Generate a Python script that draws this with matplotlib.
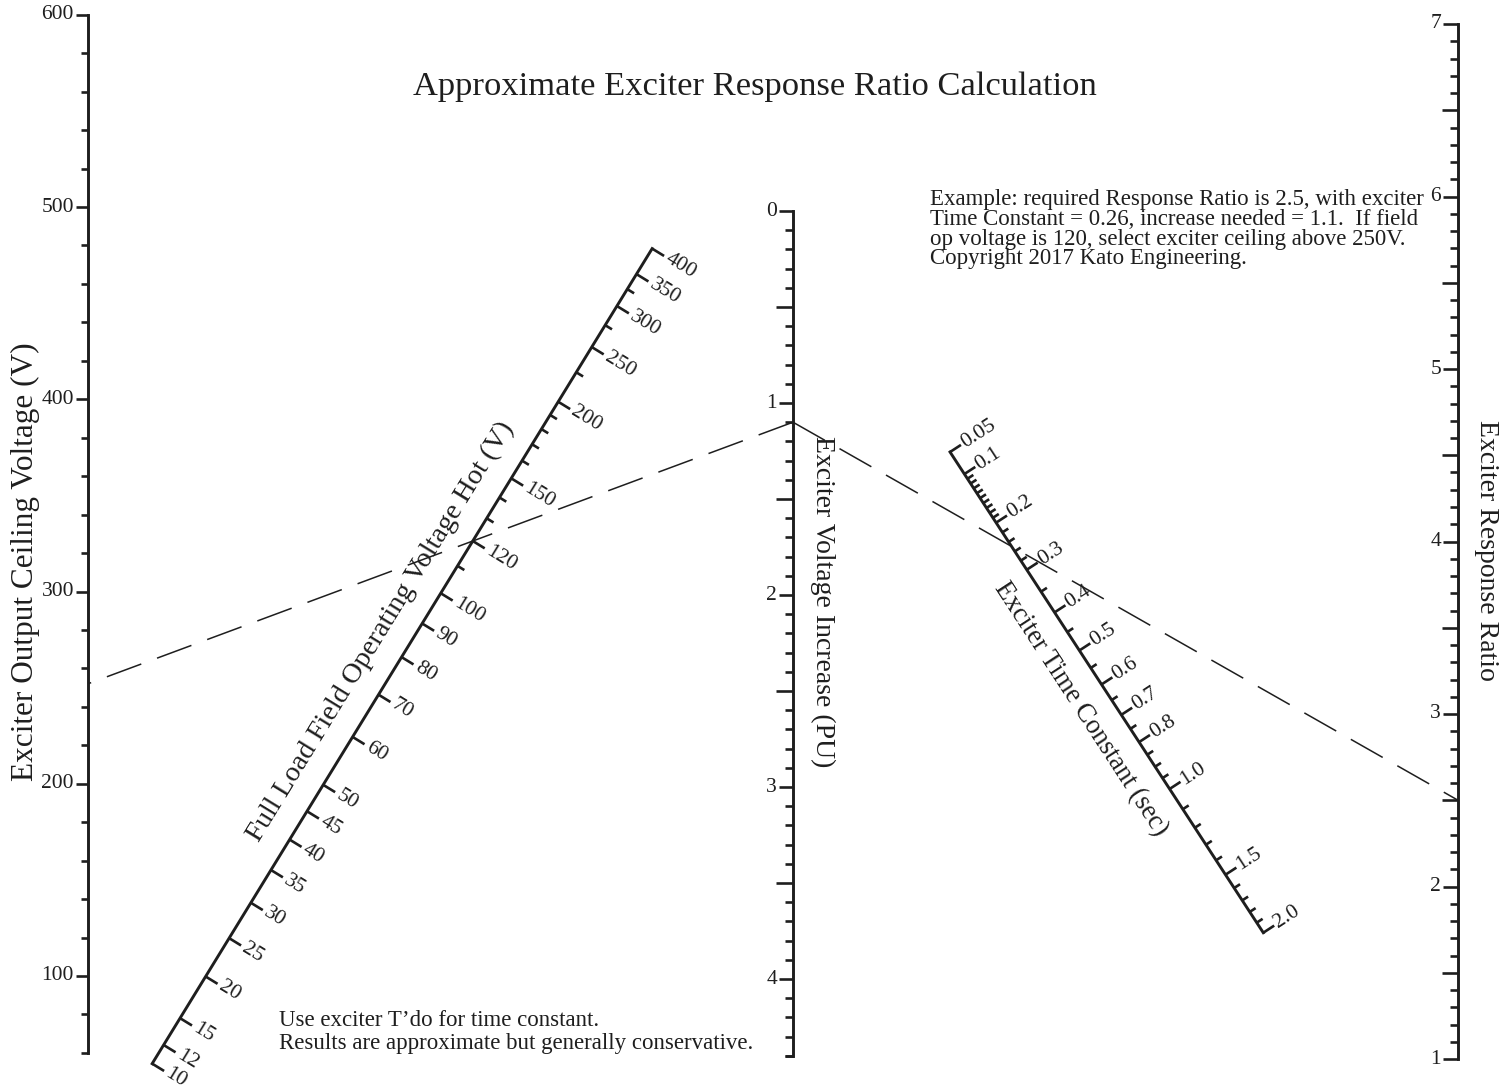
import numpy as np
import matplotlib
matplotlib.use("Agg")
import matplotlib.pyplot as plt
from matplotlib.collections import LineCollection

# ---------------- data ----------------
ceiling_labels = [100, 200, 300, 400, 500, 600]
ceiling_minor = [60, 80, 120, 140, 160, 180, 220, 240, 260, 280, 320, 340, 360, 380,
                 420, 440, 460, 480, 520, 540, 560, 580]
ceiling_range = (60, 600)

increase_labels = [0, 1, 2, 3, 4]
increase_range = (0.0, 4.4)

ratio_labels = [1, 2, 3, 4, 5, 6, 7]
ratio_range = (1.0, 7.0)

field_labels = [10, 12, 15, 20, 25, 30, 35, 40, 45, 50, 60, 70, 80, 90, 100,
                120, 150, 200, 250, 300, 350, 400]
field_minor = [110, 130, 140, 160, 170, 180, 190, 225, 275, 325]

tc_labels = [0.05, 0.1, 0.2, 0.3, 0.4, 0.5, 0.6, 0.7, 0.8, 1.0, 1.5, 2.0]
tc_label_text = ["0.05", "0.1", "0.2", "0.3", "0.4", "0.5", "0.6", "0.7", "0.8",
                 "1.0", "1.5", "2.0"]
tc_minor = [0.11, 0.12, 0.13, 0.14, 0.15, 0.16, 0.17, 0.18, 0.19,
            0.22, 0.24, 0.26, 0.28, 0.35, 0.45, 0.55, 0.65, 0.75,
            0.85, 0.9, 0.95, 1.1, 1.2, 1.3, 1.4, 1.6, 1.7, 1.8, 1.9]

example_field = 120
example_increase = 1.1
example_tc = 0.26
example_ratio = 2.5

title = "Approximate Exciter Response Ratio Calculation"
label_ceiling = "Exciter Output Ceiling Voltage (V)"
label_increase = "Exciter Voltage Increase (PU)"
label_ratio = "Exciter Response Ratio"
label_field = "Full Load Field Operating Voltage Hot (V)"
label_tc = "Exciter Time Constant (sec)"
note_example = ["Example: required Response Ratio is 2.5, with exciter",
                "Time Constant = 0.26, increase needed = 1.1.  If field",
                "op voltage is 120, select exciter ceiling above 250V.",
                "Copyright 2017 Kato Engineering."]
note_bottom = ["Use exciter T\u2019do for time constant.",
               "Results are approximate but generally conservative."]

# ---------------- layout ----------------
W, H = 1501, 1087
XA, XM, XR = 88, 793, 1458
A_REF = ((100, 976), (500, 207))
M_REF = ((0, 211), (4, 979))
R_REF = ((1, 1059), (7, 24))


def calib(ref):
    (v1, p1), (v2, p2) = ref
    s = (p2 - p1) / (v2 - v1)
    return p1 - s * v1, s


A0, A1 = calib(A_REF)
M0, M1 = calib(M_REF)
R0, R1 = calib(R_REF)

INK = "#1e1e1e"
FONT = "Liberation Serif"
plt.rcParams["font.family"] = [FONT, "DejaVu Serif"]


def yA(v):
    return A0 + A1 * np.asarray(v, float)


def yM(v):
    return M0 + M1 * np.asarray(v, float)


def yR(v):
    return R0 + R1 * np.asarray(v, float)


def field_pt(vf):
    vf = np.asarray(vf, float)
    k = -A1 * vf / M1
    t = k / (1 + k)
    return XA + t * (XM - XA), (1 - t) * (A0 + A1 * vf) + t * M0


def resp_factor(T):
    T = np.asarray(T, float)
    return 8 * (0.5 - T * (1 - np.exp(-0.5 / T)))


def tc_pt(T):
    k = M1 / (-R1 * resp_factor(T))
    t = k / (1 + k)
    return XM + t * (XR - XM), (1 - t) * M0 + t * R0


fig = plt.figure(figsize=(W / 100, H / 100), dpi=100)
ax = fig.add_axes([0, 0, 1, 1])
ax.set_xlim(0, W)
ax.set_ylim(H, 0)
ax.axis("off")

AXIS_LW = 2.1
TICK_LW = 1.9
TICK_FS = 15.5
NOTE_FS = 16.5


def vertical_scale(x, yfun, vrange, labels, minor, fmt, major_len, minor_len,
                   half=None, half_len=None):
    y0, y1 = yfun(vrange[0]), yfun(vrange[1])
    ax.plot([x, x], [y0, y1], color=INK, lw=AXIS_LW, solid_capstyle="projecting")
    segs = []
    for v in minor:
        y = float(yfun(v))
        segs.append([(x - minor_len, y), (x, y)])
    if half is not None:
        for v in half:
            y = float(yfun(v))
            segs.append([(x - half_len, y), (x, y)])
    for v in labels:
        y = float(yfun(v))
        segs.append([(x - major_len, y), (x, y)])
        ax.text(x - major_len - 2, y, fmt(v), ha="right", va="center",
                fontsize=TICK_FS, color=INK)
    ax.add_collection(LineCollection(segs, colors=INK, linewidths=TICK_LW))


# left: ceiling voltage
vertical_scale(XA, yA, ceiling_range, ceiling_labels, ceiling_minor,
               lambda v: f"{v:d}", 12, 7)

# middle: voltage increase
inc_minor = [v / 10 for v in range(0, 45) if v % 5 != 0]
inc_half = [0.5, 1.5, 2.5, 3.5]
vertical_scale(XM, yM, increase_range, increase_labels, inc_minor + [4.4],
               lambda v: f"{v:d}", 14, 8, inc_half, 17)

# right: response ratio
rr_minor = [1 + v / 10 for v in range(1, 60) if v % 5 != 0]
rr_half = [1.5, 2.5, 3.5, 4.5, 5.5, 6.5]
vertical_scale(XR, yR, ratio_range, ratio_labels, rr_minor,
               lambda v: f"{v:d}", 15, 8, rr_half, 16)


def diagonal_scale(ptfun, vmin, vmax, labels, label_text, minor, normal_sign,
                   major_len, minor_len, gap):
    xa, ya = ptfun(vmin)
    xb, yb = ptfun(vmax)
    ax.plot([xa, xb], [ya, yb], color=INK, lw=AXIS_LW)
    d = np.array([xb - xa, yb - ya])
    d = d / np.hypot(*d)
    if normal_sign > 0:
        n = np.array([-d[1], d[0]])
    else:
        n = np.array([d[1], -d[0]])
    rot = -np.degrees(np.arctan2(n[1], n[0]))
    segs = []
    for v in minor:
        px, py = ptfun(v)
        segs.append([(px, py), (px + n[0] * minor_len, py + n[1] * minor_len)])
    for v, s in zip(labels, label_text):
        px, py = ptfun(v)
        segs.append([(px, py), (px + n[0] * major_len, py + n[1] * major_len)])
        tx, ty = px + n[0] * (major_len + gap), py + n[1] * (major_len + gap)
        ax.text(tx, ty, s, rotation=rot, rotation_mode="anchor", ha="left",
                va="center", fontsize=TICK_FS, color=INK)
    ax.add_collection(LineCollection(segs, colors=INK, linewidths=TICK_LW))
    return np.array([xa, ya]), d, n


# field voltage scale
f_start, f_dir, f_n = diagonal_scale(field_pt, field_labels[0], field_labels[-1],
                                     field_labels, [str(v) for v in field_labels],
                                     field_minor, +1, 14, 8, 3)
# time constant scale
t_start, t_dir, t_n = diagonal_scale(tc_pt, tc_labels[0], tc_labels[-1],
                                     tc_labels, tc_label_text, tc_minor, -1, 13, 7, 2)

# titles along the slanted scales
f_end = np.array(field_pt(field_labels[-1]))
f_len = np.hypot(*(f_end - f_start))
c = f_start + f_dir * f_len * 0.51 - f_n * 31
ax.text(c[0], c[1], label_field, rotation=-np.degrees(np.arctan2(f_dir[1], f_dir[0])),
        rotation_mode="anchor", ha="center", va="center", fontsize=20.5, color=INK)

t_end = np.array(tc_pt(tc_labels[-1]))
t_len = np.hypot(*(t_end - t_start))
c = t_start + t_dir * t_len * 0.50 - t_n * 31
ax.text(c[0], c[1], label_tc, rotation=-np.degrees(np.arctan2(t_dir[1], t_dir[0])),
        rotation_mode="anchor", ha="center", va="center", fontsize=19.2, color=INK)

# vertical axis titles
ax.text(25, 562, label_ceiling, rotation=90, ha="center", va="center",
        fontsize=22.5, color=INK)
ax.text(823, 602, label_increase, rotation=-90, ha="center", va="center",
        fontsize=20, color=INK)
ax.text(1486, 550, label_ratio, rotation=-90, ha="center", va="center",
        fontsize=20, color=INK)

# main title
ax.text(755, 87, title, ha="center", va="center", fontsize=24.8, color=INK)

# notes
for i, line in enumerate(note_example):
    ax.text(930, 200 + i * 19.5, line, ha="left", va="center", fontsize=NOTE_FS,
            color=INK)
for i, line in enumerate(note_bottom):
    ax.text(279, 1020 + i * 23, line, ha="left", va="center", fontsize=NOTE_FS,
            color=INK)

# example isopleths (dashed), drawn outward from the middle scale
ceiling_needed = example_field * (1 + example_increase)
ym_ex = float(yM(example_increase))
ax.plot([XM, XA], [ym_ex, float(yA(ceiling_needed))], color=INK, lw=1.1,
        dashes=(24, 11))
ax.plot([XM, XR], [ym_ex, float(yR(example_ratio))], color=INK, lw=1.1,
        dashes=(24, 11))

fig.savefig("out.png", dpi=100, facecolor="white")
